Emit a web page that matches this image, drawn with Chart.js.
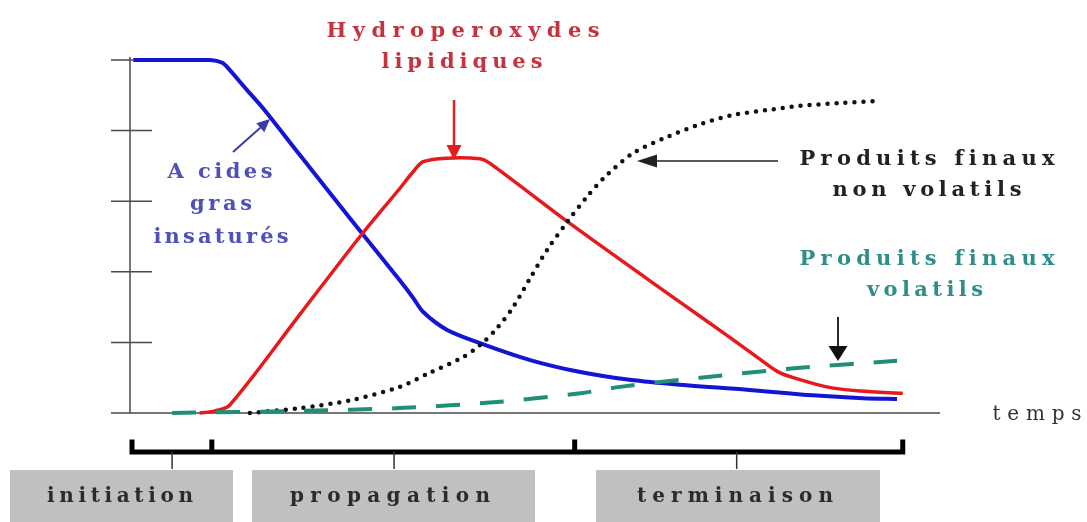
<!DOCTYPE html>
<html>
<head>
<meta charset="utf-8">
<script src="https://cdn.jsdelivr.net/npm/chart.js@4"></script>
<style>
  html, body { margin: 0; padding: 0; background: #fff; }
  #wrap { width: 1087px; height: 522px; }
</style>
</head>
<body>
<div id="wrap"><canvas id="oxChart" width="1087" height="522"></canvas></div>
<script>
// time axis is arbitrary (0..100), level axis arbitrary (0..5)
const blueTime  = [0.4, 9.9, 11.4, 12.3, 14.4, 16.4, 21.0, 27.2, 33.3, 34.9, 36.2, 39.1, 43.2, 49.4, 55.6, 61.7, 67.9, 76.2, 84.3, 90.5, 94.7];
const blueLevel = [5.00, 5.00, 4.96, 4.86, 4.58, 4.32, 3.65, 2.75, 1.88, 1.64, 1.43, 1.18, 0.99, 0.75, 0.58, 0.47, 0.40, 0.33, 0.25, 0.21, 0.20];

const redTime  = [8.6, 10.5, 12.3, 21.0, 28.4, 33.3, 34.9, 36.2, 39.1, 43.2, 44.4, 54.6, 67.9, 73.7, 77.8, 79.9, 81.9, 86.0, 90.1, 95.4];
const redLevel = [0.00, 0.03, 0.11, 1.40, 2.50, 3.18, 3.41, 3.56, 3.61, 3.60, 3.54, 2.66, 1.57, 1.10, 0.76, 0.59, 0.50, 0.37, 0.31, 0.28];

const nonVolTime  = [14.8, 21.0, 27.2, 33.3, 37.0, 41.1, 43.2, 45.3, 47.3, 49.4, 51.5, 54.0, 56.4, 58.6, 62.1, 66.3, 70.4, 74.4, 78.6, 82.7, 87.7, 92.6];
const nonVolLevel = [0.00, 0.07, 0.18, 0.37, 0.57, 0.79, 0.96, 1.20, 1.50, 1.91, 2.31, 2.71, 3.06, 3.34, 3.68, 3.91, 4.09, 4.22, 4.29, 4.35, 4.39, 4.42];

const volTime  = [5.2, 21.0, 33.3, 45.7, 55.6, 60.5, 70.4, 82.7, 94.7];
const volLevel = [0.00, 0.03, 0.07, 0.16, 0.28, 0.37, 0.50, 0.64, 0.74];

const yTicks = [1, 2, 3, 4, 5];

const phaseLabels = ['initiation', 'propagation', 'terminaison'];
const phaseBounds = [0.25, 10.1, 54.9, 95.4];
const phaseMarks  = [5.2, 32.6, 74.9];

function pts(xs, ys) {
    return xs.map((x, i) => ({ x: x, y: ys[i] }));
}

// text with wide letter spacing, stretched to a given width, centred
function spaced(ctx, text, cx, cy, width, font, color) {
    ctx.save();
    ctx.font = font;
    ctx.fillStyle = color;
    ctx.textBaseline = 'middle';
    ctx.textAlign = 'left';
    const chars = [...text];
    let natural = 0;
    chars.forEach(c => natural += ctx.measureText(c).width);
    const gap = chars.length > 1 ? (width - natural) / (chars.length - 1) : 0;
    let x = cx - width / 2;
    chars.forEach(c => {
        ctx.fillText(c, x, cy);
        x += ctx.measureText(c).width + gap;
    });
    ctx.restore();
}

function arrow(ctx, x1, y1, x2, y2, color, lw, headLen, headW) {
    const a = Math.atan2(y2 - y1, x2 - x1);
    const bx = x2 - headLen * Math.cos(a), by = y2 - headLen * Math.sin(a);
    ctx.save();
    ctx.strokeStyle = color;
    ctx.fillStyle = color;
    ctx.lineWidth = lw;
    ctx.beginPath();
    ctx.moveTo(x1, y1);
    ctx.lineTo(bx, by);
    ctx.stroke();
    ctx.beginPath();
    ctx.moveTo(x2, y2);
    ctx.lineTo(bx + headW / 2 * Math.sin(a), by - headW / 2 * Math.cos(a));
    ctx.lineTo(bx - headW / 2 * Math.sin(a), by + headW / 2 * Math.cos(a));
    ctx.closePath();
    ctx.fill();
    ctx.restore();
}

const serifB = 'bold 21px "DejaVu Serif", "Liberation Serif", serif';

const sketchPlugin = {
    id: 'sketch',
    beforeDatasetsDraw(chart) {
        const ctx = chart.ctx;
        const xs = chart.scales.x, ys = chart.scales.y;
        const x0 = xs.getPixelForValue(0), y0 = ys.getPixelForValue(0);
        ctx.save();
        ctx.strokeStyle = '#4a4a4a';
        ctx.lineWidth = 1.5;
        // y axis + ticks
        ctx.beginPath();
        ctx.moveTo(x0, ys.getPixelForValue(5) - 3);
        ctx.lineTo(x0, y0);
        yTicks.forEach(v => {
            const py = ys.getPixelForValue(v);
            ctx.moveTo(x0 - 19, py);
            ctx.lineTo(x0 + (v === 5 ? 3 : 22), py);
        });
        // time axis
        ctx.moveTo(x0 - 19, y0);
        ctx.lineTo(chart.chartArea.right, y0);
        ctx.stroke();

        // phase bracket
        const by = 452;
        ctx.strokeStyle = '#000';
        ctx.lineWidth = 5;
        ctx.lineCap = 'square';
        ctx.beginPath();
        ctx.moveTo(xs.getPixelForValue(phaseBounds[0]), by);
        ctx.lineTo(xs.getPixelForValue(phaseBounds[phaseBounds.length - 1]), by);
        phaseBounds.forEach(v => {
            const px = xs.getPixelForValue(v);
            ctx.moveTo(px, by);
            ctx.lineTo(px, by - 10);
        });
        ctx.stroke();
        ctx.lineWidth = 1.5;
        ctx.lineCap = 'butt';
        ctx.strokeStyle = '#333';
        ctx.beginPath();
        phaseMarks.forEach(v => {
            const px = xs.getPixelForValue(v);
            ctx.moveTo(px, by);
            ctx.lineTo(px, 469);
        });
        ctx.stroke();

        // phase boxes
        const boxes = [[10, 223], [252, 283], [596, 284]];
        const textCx = [120, 390, 735];
        const textW = [146, 200, 196];
        ctx.fillStyle = '#c0c0c0';
        boxes.forEach((b, i) => {
            ctx.fillRect(b[0], 470, b[1], 60);
            spaced(ctx, phaseLabels[i], textCx[i], 497, textW[i], 'bold 20px "DejaVu Serif", serif', '#2b2b2b');
        });
        ctx.restore();
    },
    afterDatasetsDraw(chart) {
        const ctx = chart.ctx;
        // labels
        spaced(ctx, 'Hydroperoxydes', 463, 32, 273, serifB, '#c4343e');
        spaced(ctx, 'lipidiques', 462, 63, 161, serifB, '#c4343e');
        spaced(ctx, 'A cides', 220, 173, 105, serifB, '#5050bb');
        spaced(ctx, 'gras', 221, 205, 62, serifB, '#5050bb');
        spaced(ctx, 'insaturés', 221, 238, 135, serifB, '#5050bb');
        spaced(ctx, 'Produits finaux', 927, 160, 255, serifB, '#222');
        spaced(ctx, 'non volatils', 927, 191, 189, serifB, '#222');
        spaced(ctx, 'Produits finaux', 927, 260, 255, serifB, '#2e8e88');
        spaced(ctx, 'volatils', 925, 291, 116, serifB, '#2e8e88');
        spaced(ctx, 'temps', 1037, 415, 89, '20px "DejaVu Serif", serif', '#333');

        // pointers
        arrow(ctx, 233, 152, 270, 119, '#3a3aa8', 2, 13, 12);
        arrow(ctx, 454, 100, 454, 160, '#e02020', 2.5, 15, 15);
        arrow(ctx, 778, 161, 637, 161, '#222', 1.5, 20, 13);
        arrow(ctx, 838, 317, 838, 361, '#111', 1.8, 15, 19);
    }
};

const ctx = document.getElementById('oxChart').getContext('2d');

let oxChart = new Chart(ctx, {
    type: 'line',
    data: {
        datasets: [{
            label: 'Produits finaux volatils',
            data: pts(volTime, volLevel),
            borderColor: '#1f8f78',
            borderWidth: 4,
            borderDash: [24, 20],
        }, {
            label: 'Produits finaux non volatils',
            data: pts(nonVolTime, nonVolLevel),
            borderColor: '#111',
            borderWidth: 4.5,
            borderDash: [0, 9],
            borderCapStyle: 'round',
        }, {
            label: 'Hydroperoxydes lipidiques',
            data: pts(redTime, redLevel),
            borderColor: '#e8191c',
            borderWidth: 3.5,
        }, {
            label: 'Acides gras insaturés',
            data: pts(blueTime, blueLevel),
            borderColor: '#1414d4',
            borderWidth: 4,
        }]
    },
    options: {
        responsive: false,
        animation: false,
        layout: {
            padding: { left: 130, right: 147, top: 60, bottom: 109 }
        },
        elements: {
            point: { radius: 0 },
            line: { tension: 0.3, fill: false, borderJoinStyle: 'round' }
        },
        datasets: { line: { clip: false } },
        plugins: {
            legend: { display: false },
            tooltip: { enabled: false }
        },
        scales: {
            x: { type: 'linear', min: 0, max: 100, display: false },
            y: { type: 'linear', min: 0, max: 5, display: false }
        }
    },
    plugins: [sketchPlugin]
});
</script>
</body>
</html>
